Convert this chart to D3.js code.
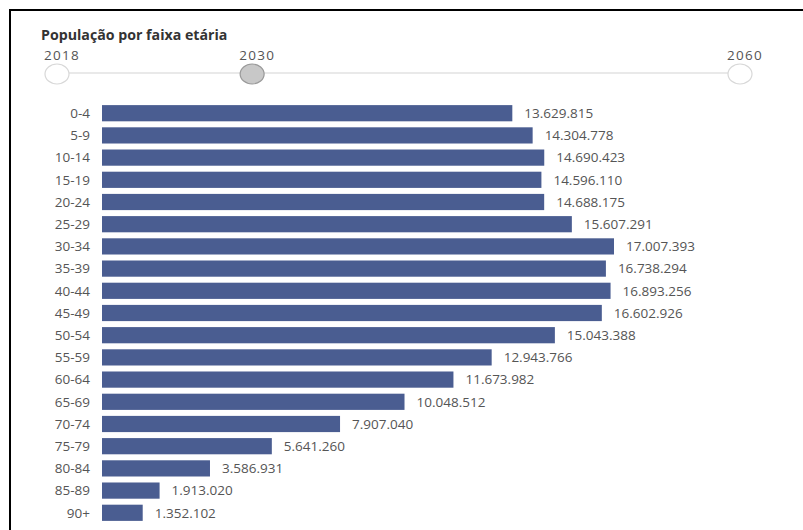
<!DOCTYPE html>
<html><head><meta charset="utf-8">
<script src="https://cdn.jsdelivr.net/npm/d3@7"></script>
<style>body{margin:0;background:#fff;} svg{display:block;font-family:"Open Sans",sans-serif;}</style>
</head><body>
<svg id="c" width="803" height="530"></svg>
<script>
const title = "População por faixa etária";
const years = [2018, 2030, 2060];
const selectedYear = 2030;
const ageGroups = ["0-4","5-9","10-14","15-19","20-24","25-29","30-34","35-39","40-44","45-49","50-54","55-59","60-64","65-69","70-74","75-79","80-84","85-89","90+"];
const population = [13629815,14304778,14690423,14596110,14688175,15607291,17007393,16738294,16893256,16602926,15043388,12943766,11673982,10048512,7907040,5641260,3586931,1913020,1352102];

const svg = d3.select("#c");
// frame
svg.append("line").attr("x1",9).attr("x2",803).attr("y1",10).attr("y2",10).attr("stroke","#000").attr("stroke-width",2);
svg.append("line").attr("x1",10).attr("x2",10).attr("y1",9).attr("y2",530).attr("stroke","#000").attr("stroke-width",2);

svg.append("defs").append("clipPath").attr("id","clip").append("rect").attr("x",0).attr("y",0).attr("width",764).attr("height",530);
const g = svg.append("g").attr("clip-path","url(#clip)");

g.append("text").attr("x",41).attr("y",40).attr("font-size",14.2).attr("font-weight","bold").attr("fill","#333").text(title);

// slider
const sx = d3.scaleLinear().domain([2018,2060]).range([57,740]);
g.append("line").attr("x1",sx(2018)).attr("x2",sx(2060)).attr("y1",73).attr("y2",73).attr("stroke","#d4d4d4").attr("stroke-width",1.2);
years.forEach(y=>{
  const sel = y===selectedYear;
  g.append("ellipse").attr("cx",sx(y)).attr("cy",74).attr("rx",12).attr("ry",10)
    .attr("fill", sel?"#c8c8c8":"#fff").attr("stroke", sel?"#999":"#d8d8d8").attr("stroke-width",1.2);
  g.append("text").attr("x",sx(y)-13).attr("y",60).attr("font-size",13.5).attr("letter-spacing",1.3).attr("fill","#555").text(y);
});

// bars
const x = d3.scaleLinear().domain([0,17007393]).range([102,614]);
const y = d3.scaleBand().domain(ageGroups).range([102,524]).paddingInner(0.27).paddingOuter(0.14);
const fmt = v => d3.format(",")(v).replace(/,/g,".");
const rows = g.selectAll("g.row").data(ageGroups.map((a,i)=>({a,v:population[i]}))).enter().append("g");
rows.append("rect").attr("x",x(0)).attr("y",d=>y(d.a)).attr("width",d=>x(d.v)-x(0)).attr("height",y.bandwidth()).attr("fill","#4a5d91");
rows.append("text").attr("x",90).attr("y",d=>y(d.a)+y.bandwidth()/2).attr("dy","0.35em").attr("text-anchor","end").attr("font-size",13.5).attr("fill","#555").text(d=>d.a);
rows.append("text").attr("x",d=>x(d.v)+12).attr("y",d=>y(d.a)+y.bandwidth()/2).attr("dy","0.35em").attr("font-size",13.5).attr("fill","#555").text(d=>fmt(d.v));
</script>
</body></html>
